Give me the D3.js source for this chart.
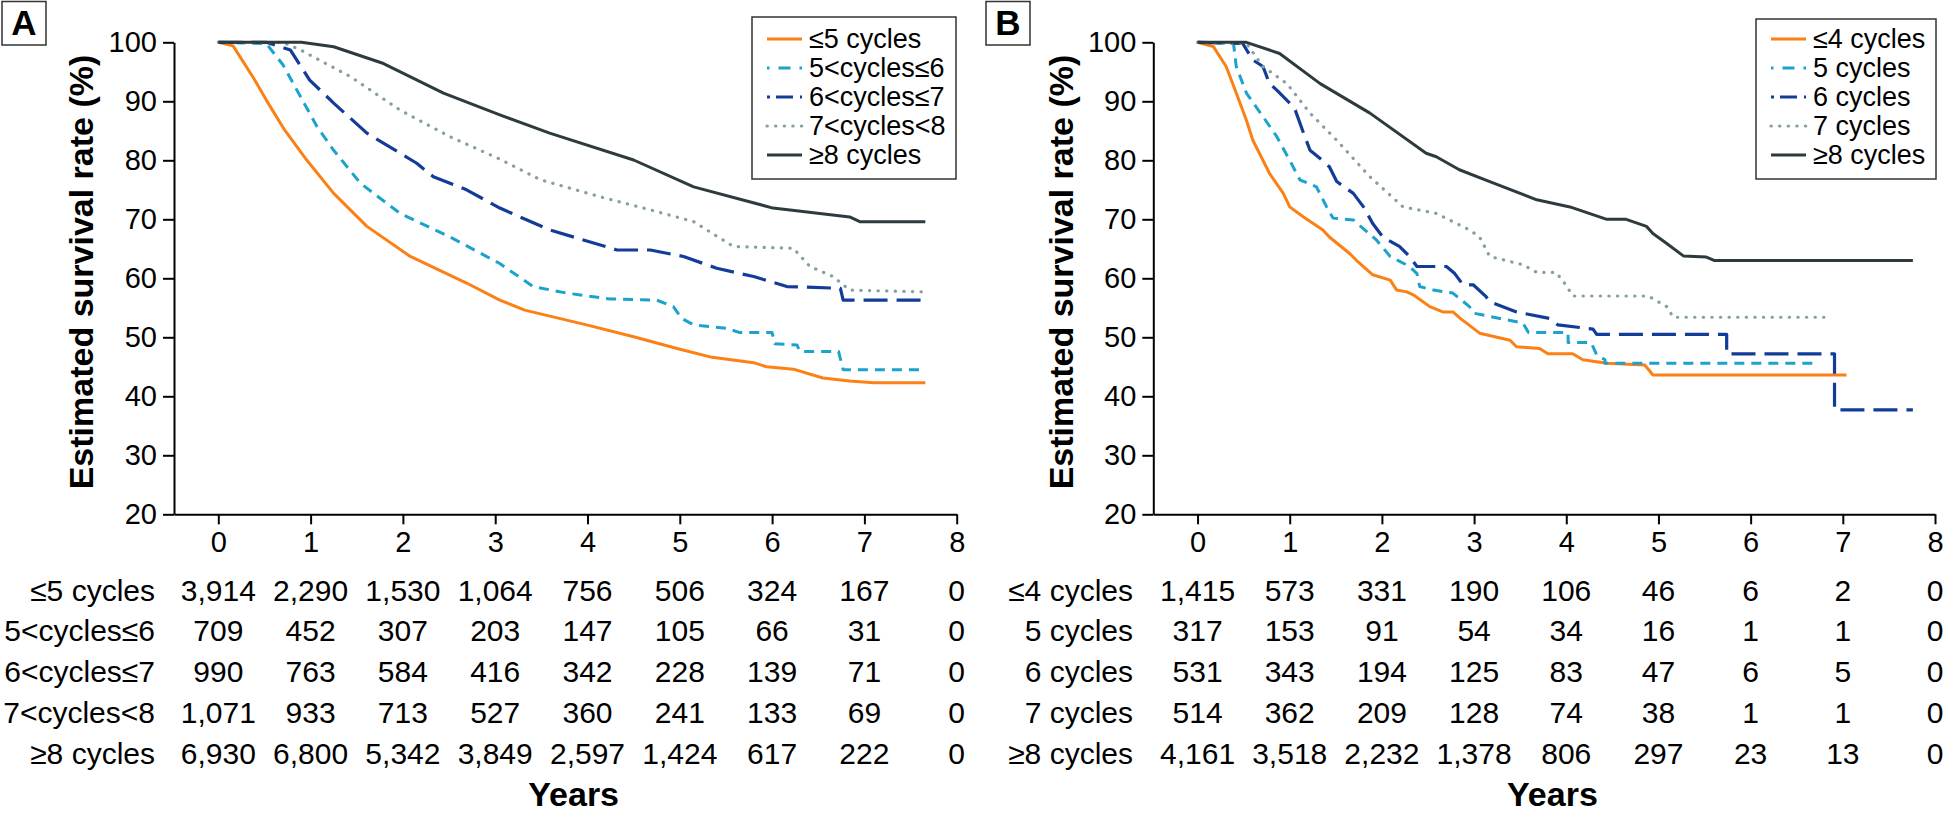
<!DOCTYPE html>
<html>
<head>
<meta charset="utf-8">
<script src="https://cdn.jsdelivr.net/npm/d3@7"></script>
<style>
  body { margin: 0; background: #FFFFFF; }
  svg { display: block; font-family: "Liberation Sans", Arial, Helvetica, sans-serif; }
</style>
</head>
<body>
<svg id="chart"></svg>
<script>
const width = 1944
const height = 814

// Shared axes
const yearTicks = [0, 1, 2, 3, 4, 5, 6, 7, 8]
const survivalTicks = [20, 30, 40, 50, 60, 70, 80, 90, 100]

// Panel A data (years, estimated survival %)
const aLabels = ["≤5 cycles", "5<cycles≤6", "6<cycles≤7", "7<cycles<8", "≥8 cycles"]
const aLe5 = [[0,100],[0.16,99.4],[0.38,94],[0.52,90.2],[0.72,85.1],[0.96,80],[1.25,74.4],[1.61,68.8],[2.08,63.7],[2.69,59.2],[3.05,56.3],[3.32,54.6],[3.99,52.1],[4.5,50.1],[4.97,48.1],[5.35,46.6],[5.8,45.7],[5.94,45.0],[6.23,44.6],[6.55,43.1],[6.84,42.6],[7.1,42.3],[7.66,42.3]]
const a5to6 = [[0,100],[0.52,99.8],[0.7,96.2],[0.89,90.8],[1.07,85.7],[1.25,81.7],[1.54,76.1],[1.97,71.0],[2.51,67.0],[3.05,62.5],[3.41,58.6],[3.77,57.5],[4.24,56.5],[4.75,56.3],[4.93,55.2],[5.02,53.2],[5.15,52.1],[5.51,51.5],[5.65,50.8],[6.0,50.8],[6.03,48.9],[6.27,48.7],[6.3,47.6],[6.72,47.6],[6.77,44.5],[7.66,44.5]]
const a6to7 = [[0,100],[0.52,100],[0.78,98.7],[0.99,93.6],[1.25,89.7],[1.61,84.6],[2.15,79.5],[2.33,77.2],[2.69,75.0],[3.05,71.9],[3.59,68.2],[4.32,64.8],[4.68,64.8],[5.04,63.7],[5.4,61.7],[5.8,60.3],[6.16,58.6],[6.74,58.3],[6.77,56.3],[7.66,56.3]]
const a7to8 = [[0,100],[0.7,100],[0.89,98.7],[1.43,94.2],[1.97,88.5],[2.51,84.0],[3.05,80.2],[3.49,76.7],[4.14,73.8],[4.68,71.6],[5.15,69.6],[5.58,65.4],[6.23,65.1],[6.41,62.0],[6.66,60.3],[6.84,58.0],[7.66,57.7]]
const aGe8 = [[0,100],[0.9,100],[1.25,99.25],[1.79,96.4],[2.44,91.4],[3.05,87.7],[3.59,84.6],[4.5,80.05],[5.15,75.5],[6.01,71.9],[6.84,70.4],[6.95,69.6],[7.66,69.6]]
const aAtRisk = [
    [3914, 2290, 1530, 1064, 756, 506, 324, 167, 0],
    [709, 452, 307, 203, 147, 105, 66, 31, 0],
    [990, 763, 584, 416, 342, 228, 139, 71, 0],
    [1071, 933, 713, 527, 360, 241, 133, 69, 0],
    [6930, 6800, 5342, 3849, 2597, 1424, 617, 222, 0]
]

// Panel B data
const bLabels = ["≤4 cycles", "5 cycles", "6 cycles", "7 cycles", "≥8 cycles"]
const bLe4 = [[0,100],[0.17,99.3],[0.31,95.9],[0.42,91.4],[0.53,86.8],[0.6,83.4],[0.78,77.8],[0.93,74.4],[1.0,72.1],[1.15,70.4],[1.36,68.2],[1.43,67.0],[1.65,64.2],[1.72,63.1],[1.9,60.6],[2.09,59.7],[2.16,58.0],[2.27,57.7],[2.34,57.2],[2.52,55.2],[2.66,54.3],[2.77,54.3],[2.85,53.2],[3.06,50.7],[3.39,49.5],[3.46,48.4],[3.71,48.1],[3.8,47.2],[4.07,47.2],[4.18,46.2],[4.44,45.6],[4.85,45.3],[4.91,44.2],[4.94,43.6],[7.04,43.6]]
const b5 = [[0,100],[0.39,99.8],[0.42,95.9],[0.53,91.4],[0.71,87.4],[0.86,84.0],[1.0,80.0],[1.11,76.7],[1.29,75.5],[1.4,72.1],[1.47,70.2],[1.69,69.9],[1.94,66.5],[2.09,63.7],[2.3,62.0],[2.38,60.8],[2.41,58.6],[2.56,58.0],[2.77,57.5],[2.95,55.2],[2.99,54.1],[3.28,53.2],[3.53,52.4],[3.59,50.8],[4.02,50.8],[4.02,49.1],[4.27,49.1],[4.33,47.0],[4.42,46.2],[4.42,45.6],[6.7,45.6]]
const b6 = [[0,100],[0.49,99.8],[0.6,97],[0.71,95.9],[0.78,93.0],[0.86,91.9],[1.0,89.7],[1.06,88.5],[1.15,84.6],[1.22,81.7],[1.33,80.3],[1.43,78.9],[1.51,76.4],[1.69,74.4],[1.8,72.1],[1.9,69.3],[2.01,67.0],[2.19,65.4],[2.3,63.7],[2.38,62.0],[2.7,62.0],[2.79,60.8],[2.88,58.9],[2.99,58.9],[3.13,56.9],[3.17,56.0],[3.46,54.3],[3.82,53.2],[3.91,52.1],[4.29,51.4],[4.33,50.5],[5.74,50.5],[5.74,47.2],[6.91,47.2],[6.91,37.7],[7.76,37.7]]
const b7 = [[0,100],[0.53,99.8],[0.71,95.9],[0.97,93.0],[1.22,88.0],[1.51,83.4],[1.87,77.2],[2.23,72.1],[2.59,71.0],[2.95,68.2],[3.06,67.0],[3.17,63.7],[3.53,62.3],[3.68,61.0],[3.89,61.0],[4.0,58.8],[4.07,57.0],[4.89,57.0],[5.09,55.2],[5.16,53.4],[6.86,53.4]]
const bGe8 = [[0,100],[0.53,100],[0.89,98.1],[1.33,93.0],[1.87,88.0],[2.48,81.2],[2.59,80.6],[2.84,78.4],[3.17,76.4],[3.68,73.3],[4.04,72.1],[4.44,70.0],[4.65,70.0],[4.87,68.8],[4.94,67.6],[5.09,65.9],[5.27,63.8],[5.52,63.6],[5.61,63.0],[7.76,63.0]]
const bAtRisk = [
    [1415, 573, 331, 190, 106, 46, 6, 2, 0],
    [317, 153, 91, 54, 34, 16, 1, 1, 0],
    [531, 343, 194, 125, 83, 47, 6, 5, 0],
    [514, 362, 209, 128, 74, 38, 1, 1, 0],
    [4161, 3518, 2232, 1378, 806, 297, 23, 13, 0]
]

// Line styles, one per series (same order in both panels)
const seriesStyles = [
    { color: "#FB8016", width: 3,   dash: null,      cap: "butt" },
    { color: "#1BA3CB", width: 3,   dash: "10,7",    cap: "butt" },
    { color: "#123C97", width: 3.2, dash: "24,9",    cap: "butt" },
    { color: "#86A0A0", width: 3.2, dash: "0.3,8.3", cap: "round" },
    { color: "#2D3B3F", width: 3,   dash: null,      cap: "butt" }
]

const tickFont = 29
const tableFont = 30
const legendFont = 27
const titleFont = 34

const svg = d3.select("#chart")
    .attr("width", width)
    .attr("height", height)

svg.append("rect").attr("width", width).attr("height", height).attr("fill", "#FFFFFF")

const fmt = d3.format(",")

function drawPanel(cfg) {
    const g = svg.append("g")

    const x = d3.scaleLinear().domain([-0.48, 8]).range([cfg.left, cfg.right])
    const y = d3.scaleLinear().domain([20, 100]).range([514.3, 42.3])

    // Axes
    const yAxis = g.append("g")
        .attr("transform", `translate(${cfg.left},0)`)
        .call(d3.axisLeft(y).tickValues(survivalTicks).tickSize(11).tickSizeOuter(0).tickPadding(6))
    const xAxis = g.append("g")
        .attr("transform", `translate(0,${y(20)})`)
        .call(d3.axisBottom(x).tickValues(yearTicks).tickSize(10).tickSizeOuter(0).tickPadding(7))

    for (const ax of [yAxis, xAxis]) {
        ax.select(".domain").attr("stroke", "#000").attr("stroke-width", 2)
        ax.selectAll(".tick line").attr("stroke", "#000").attr("stroke-width", 2)
        ax.selectAll(".tick text")
            .attr("fill", "#000")
            .attr("font-size", tickFont)
            .attr("font-family", "Liberation Sans, Arial, sans-serif")
    }

    // Curves
    const line = d3.line().x(d => x(d[0])).y(d => y(d[1]))
    g.append("g").selectAll("path")
        .data(cfg.series)
        .enter()
        .append("path")
        .attr("d", d => line(d))
        .attr("fill", "none")
        .attr("stroke", (d, i) => seriesStyles[i].color)
        .attr("stroke-width", (d, i) => seriesStyles[i].width)
        .attr("stroke-dasharray", (d, i) => seriesStyles[i].dash)
        .attr("stroke-linecap", (d, i) => seriesStyles[i].cap)
        .attr("stroke-linejoin", "round")

    // Y axis title
    g.append("text")
        .attr("transform", `translate(${cfg.yTitleX},272) rotate(-90)`)
        .attr("text-anchor", "middle")
        .attr("font-size", titleFont)
        .attr("font-weight", "bold")
        .text("Estimated survival rate (%)")

    // Panel letter box
    g.append("rect")
        .attr("x", cfg.letterX).attr("y", 1.5)
        .attr("width", 44).attr("height", 43.5)
        .attr("fill", "none").attr("stroke", "#333").attr("stroke-width", 1.5)
    g.append("text")
        .attr("x", cfg.letterX + 22).attr("y", 35)
        .attr("text-anchor", "middle")
        .attr("font-size", 35)
        .attr("font-weight", "bold")
        .text(cfg.letter)

    // Legend
    const leg = g.append("g")
    leg.append("rect")
        .attr("x", cfg.legend.x).attr("y", cfg.legend.y)
        .attr("width", cfg.legend.w).attr("height", cfg.legend.h)
        .attr("fill", "#FFFFFF").attr("stroke", "#333").attr("stroke-width", 1.5)
    const rows = leg.selectAll("g.row")
        .data(cfg.labels)
        .enter()
        .append("g")
        .attr("class", "row")
        .attr("transform", (d, i) => `translate(${cfg.legend.x},${39 + i * 29})`)
    rows.append("line")
        .attr("x1", 15).attr("x2", 50)
        .attr("stroke", (d, i) => seriesStyles[i].color)
        .attr("stroke-width", (d, i) => seriesStyles[i].width)
        .attr("stroke-dasharray", (d, i) => i === 1 ? "2.5,9,12,9" : i === 2 ? "3,6,17,7" : seriesStyles[i].dash)
        .attr("stroke-linecap", (d, i) => seriesStyles[i].cap)
    rows.append("text")
        .attr("x", 57).attr("dy", "0.35em")
        .attr("font-size", legendFont)
        .text(d => d)

    // Number at risk table
    const table = g.append("g")
    cfg.atRisk.forEach((row, r) => {
        const ty = 590 + r * 40.8
        table.append("text")
            .attr("x", cfg.rowLabelX).attr("y", ty).attr("dy", "0.35em")
            .attr("text-anchor", "end")
            .attr("font-size", tableFont)
            .text(cfg.labels[r])
        table.selectAll(null)
            .data(row)
            .enter()
            .append("text")
            .attr("x", (d, i) => x(yearTicks[i]))
            .attr("y", ty).attr("dy", "0.35em")
            .attr("text-anchor", "middle")
            .attr("font-size", tableFont)
            .text(d => fmt(d))
    })

    // X axis title
    g.append("text")
        .attr("x", x(3.85)).attr("y", 806)
        .attr("text-anchor", "middle")
        .attr("font-size", titleFont)
        .attr("font-weight", "bold")
        .text("Years")
}

drawPanel({
    letter: "A", letterX: 2,
    left: 174, right: 956.7,
    yTitleX: 93, rowLabelX: 155,
    labels: aLabels,
    series: [aLe5, a5to6, a6to7, a7to8, aGe8],
    atRisk: aAtRisk,
    legend: { x: 752, y: 17, w: 204, h: 162 }
})

drawPanel({
    letter: "B", letterX: 986,
    left: 1153.3, right: 1935,
    yTitleX: 1073, rowLabelX: 1133,
    labels: bLabels,
    series: [bLe4, b5, b6, b7, bGe8],
    atRisk: bAtRisk,
    legend: { x: 1756, y: 19, w: 180, h: 160 }
})
</script>
</body>
</html>
